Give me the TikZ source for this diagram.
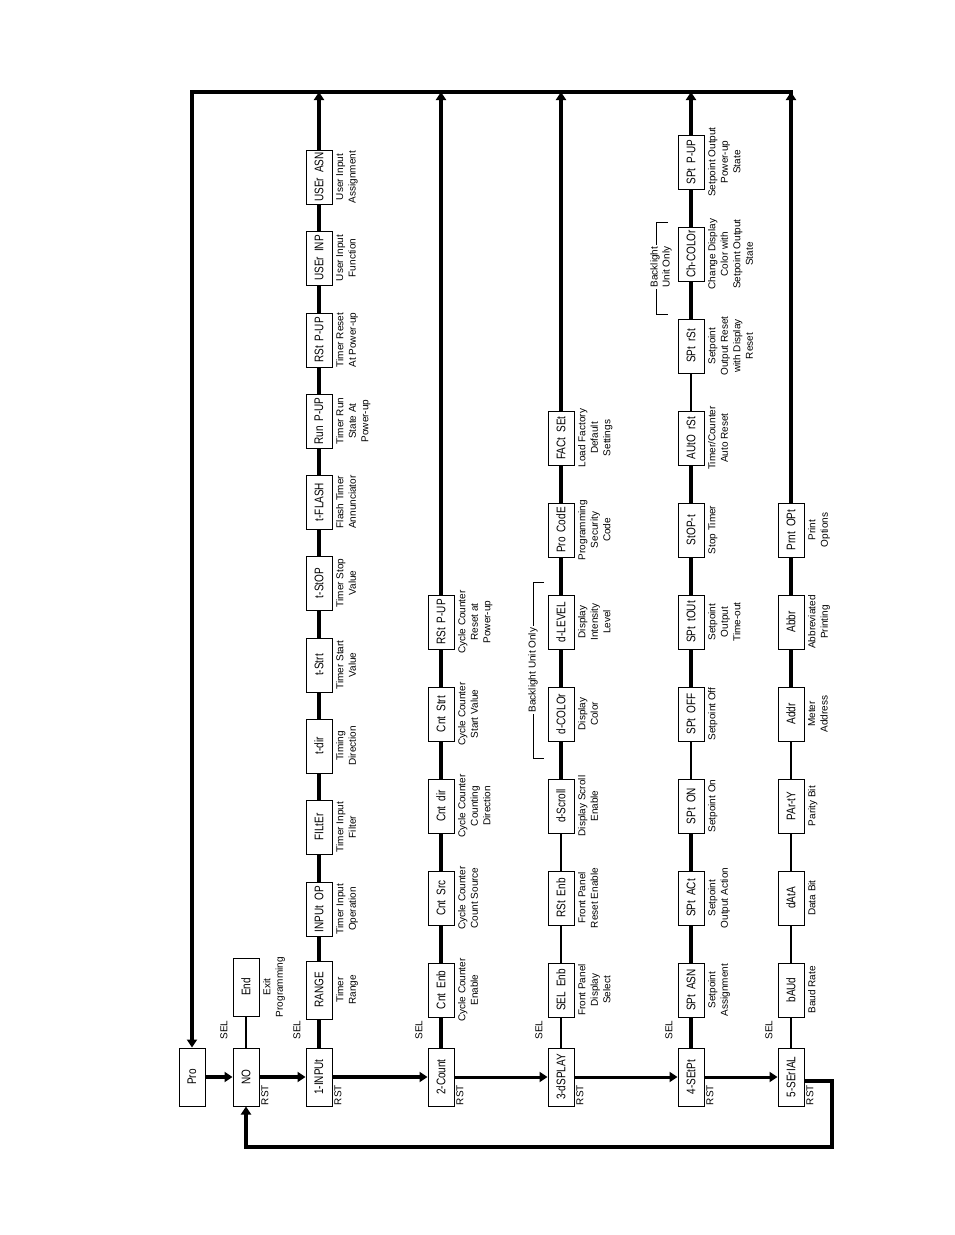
\documentclass[tikz,border=0pt]{standalone}
\usepackage{fontspec}
\setmainfont{Liberation Sans}
\newfontfamily\segfont[FakeStretch=0.8]{Liberation Sans}
\usetikzlibrary{arrows.meta}
\newcommand\gp{\hspace{5pt}}
\begin{document}
\begin{tikzpicture}[x=1pt,y=-1pt,
  box/.style={draw,line width=1pt,rotate=90,minimum width=54pt,minimum height=26pt,inner sep=1pt,fill=white,font=\segfont\fontsize{12.5}{14}\selectfont},
  hbox/.style={box,minimum width=58pt},
  lbl/.style={rotate=90,anchor=north,align=center,inner sep=0pt,font=\fontsize{10}{12.5}\selectfont},
  tag/.style={rotate=90,inner sep=0pt,font=\fontsize{10}{12}\selectfont},
  thk/.style={line width=3.5pt},
  med/.style={line width=3pt},
  thn/.style={line width=1.3pt},
  brk/.style={line width=0.8pt},
  arr/.style={-{Triangle[length=8pt,width=10pt]}}
]
\path[use as bounding box] (0,0) rectangle (954,1235);

% ---- top row
\node[hbox] (Pro) at (192,1077) {Pro};
\node[hbox] (NO) at (246,1077) {NO};
\node[hbox] (End) at (246,987) {End};
\node[lbl] (lEnd) at (263,987) {Exit\\Programming};

% ---- column 1
\node[hbox] (a0) at (319,1077) {1-INPUt};
\node[hbox] (a1) at (319,990) {RANGE};
\node[box] (a2) at (319,909) {INPUt\gp OP};
\node[box] (a3) at (319,827) {FILtEr};
\node[box] (a4) at (319,746) {t-dir};
\node[box] (a5) at (319,665) {t-Strt};
\node[box] (a6) at (319,583) {t-StOP};
\node[box] (a7) at (319,502) {t-FLASH};
\node[box] (a8) at (319,421) {Run\gp P-UP};
\node[box] (a9) at (319,340) {RSt\gp P-UP};
\node[box] (a10) at (319,258) {USEr\gp INP};
\node[box] (a11) at (319,177) {USEr\gp ASN};
\node[lbl] (la1) at (336,990) {Timer\\Range};
\node[lbl] (la2) at (336,909) {Timer Input\\Operation};
\node[lbl] (la3) at (336,827) {Timer Input\\Filter};
\node[lbl] (la4) at (336,746) {Timing\\Direction};
\node[lbl] (la5) at (336,665) {Timer Start\\Value};
\node[lbl] (la6) at (336,583) {Timer Stop\\Value};
\node[lbl] (la7) at (336,502) {Flash Timer\\Annunciator};
\node[lbl] (la8) at (336,421) {Timer Run\\State At\\Power-up};
\node[lbl] (la9) at (336,340) {Timer Reset\\At Power-up};
\node[lbl] (la10) at (336,258) {User Input\\Function};
\node[lbl] (la11) at (336,177) {User Input\\Assignment};

% ---- column 2
\node[hbox] (b0) at (441,1077) {2-Count};
\node[box] (b1) at (441,990) {Cnt\gp Enb};
\node[box] (b2) at (441,898) {Cnt\gp Src};
\node[box] (b3) at (441,806) {Cnt\gp dir};
\node[box] (b4) at (441,714) {Cnt\gp Strt};
\node[box] (b5) at (441,622) {RSt\gp P-UP};
\node[lbl] (lb1) at (458,990) {Cycle Counter\\Enable};
\node[lbl] (lb2) at (458,898) {Cycle Counter\\Count Source};
\node[lbl] (lb3) at (458,806) {Cycle Counter\\Counting\\Direction};
\node[lbl] (lb4) at (458,714) {Cycle Counter\\Start Value};
\node[lbl] (lb5) at (458,622) {Cycle Counter\\Reset at\\Power-up};

% ---- column 3
\node[hbox] (c0) at (561,1077) {3-dSPLAY};
\node[box] (c1) at (561,990) {SEL\gp Enb};
\node[box] (c2) at (561,898) {RSt\gp Enb};
\node[box] (c3) at (561,806) {d-Scroll};
\node[box] (c4) at (561,714) {d-COLOr};
\node[box] (c5) at (561,622) {d-LEVEL};
\node[box] (c6) at (561,530) {Pro\gp CodE};
\node[box] (c7) at (561,438) {FACt\gp SEt};
\node[lbl] (lc1) at (578,990) {Front Panel\\Display\\Select};
\node[lbl] (lc2) at (578,898) {Front Panel\\Reset Enable};
\node[lbl] (lc3) at (578,806) {Display Scroll\\Enable};
\node[lbl] (lc4) at (578,714) {Display\\Color};
\node[lbl] (lc5) at (578,622) {Display\\Intensity\\Level};
\node[lbl] (lc6) at (578,530) {Programming\\Security\\Code};
\node[lbl] (lc7) at (578,438) {Load Factory\\Default\\Settings};

% ---- column 4
\node[hbox] (d0) at (691,1077) {4-SEtPt};
\node[box] (d1) at (691,990) {SPt\gp ASN};
\node[box] (d2) at (691,898) {SPt\gp ACt};
\node[box] (d3) at (691,806) {SPt\gp ON};
\node[box] (d4) at (691,714) {SPt\gp OFF};
\node[box] (d5) at (691,622) {SPt\gp tOUt};
\node[box] (d6) at (691,530) {StOP-t};
\node[box] (d7) at (691,438) {AUtO\gp rSt};
\node[box] (d8) at (691,346) {SPt\gp rSt};
\node[box] (d9) at (691,254) {Ch-COLOr};
\node[box] (d10) at (691,162) {SPt\gp P-UP};
\node[lbl] (ld1) at (708,990) {Setpoint\\Assignment};
\node[lbl] (ld2) at (708,898) {Setpoint\\Output Action};
\node[lbl] (ld3) at (708,806) {Setpoint On};
\node[lbl] (ld4) at (708,714) {Setpoint Off};
\node[lbl] (ld5) at (708,622) {Setpoint\\Output\\Time-out};
\node[lbl] (ld6) at (708,530) {Stop Timer};
\node[lbl] (ld7) at (708,438) {Timer/Counter\\Auto Reset};
\node[lbl] (ld8) at (708,346) {Setpoint\\Output Reset\\with Display\\Reset};
\node[lbl] (ld9) at (708,254) {Change Display\\Color with\\Setpoint Output\\State};
\node[lbl] (ld10) at (708,162) {Setpoint Output\\Power-up\\State};

% ---- column 5
\node[hbox] (e0) at (791,1077) {5-SErIAL};
\node[box] (e1) at (791,990) {bAUd};
\node[box] (e2) at (791,898) {dAtA};
\node[box] (e3) at (791,806) {PAr-tY};
\node[box] (e4) at (791,714) {Addr};
\node[box] (e5) at (791,622) {Abbr};
\node[box] (e6) at (791,530) {Prnt\gp OPt};
\node[lbl] (le1) at (808,990) {Baud Rate};
\node[lbl] (le2) at (808,898) {Data Bit};
\node[lbl] (le3) at (808,806) {Parity Bit};
\node[lbl] (le4) at (808,714) {Meter\\Address};
\node[lbl] (le5) at (808,622) {Abbreviated\\Printing};
\node[lbl] (le6) at (808,530) {Print\\Options};

% ---- SEL / RST tags
\node[tag] (s0) at (224,1030) {SEL};
\node[tag] (s1) at (297,1030) {SEL};
\node[tag] (s2) at (419,1030) {SEL};
\node[tag] (s3) at (539,1030) {SEL};
\node[tag] (s4) at (669,1030) {SEL};
\node[tag] (s5) at (769,1030) {SEL};
\node[tag] (r0) at (265,1095) {RST};
\node[tag] (r1) at (338,1095) {RST};
\node[tag] (r2) at (460,1095) {RST};
\node[tag] (r3) at (580,1095) {RST};
\node[tag] (r4) at (710,1095) {RST};
\node[tag] (r5) at (810,1095) {RST};

% ---- coordinates
\coordinate (T0) at (192,92);
\coordinate (T5) at (791,92);
\coordinate (T5b) at (791,112);
\coordinate (R1) at (832,1081);
\coordinate (R2) at (832,1147);
\coordinate (R3) at (246,1147);

% ---- in-column connectors
\draw[thn] (NO) -- (End);
\draw[thk] (a0)--(a1) (a1)--(a2) (a2)--(a3) (a3)--(a4) (a4)--(a5) (a5)--(a6) (a6)--(a7) (a7)--(a8) (a8)--(a9) (a9)--(a10) (a10)--(a11);
\draw[thk] (b0)--(b1) (b1)--(b2) (b2)--(b3) (b3)--(b4) (b4)--(b5);
\draw[thn] (c0)--(c1) (c1)--(c2) (c2)--(c3);
\draw[thk] (c3)--(c4) (c4)--(c5) (c5)--(c6) (c6)--(c7);
\draw[thk] (d0)--(d1) (d1)--(d2) (d2)--(d3) (d4)--(d5) (d5)--(d6) (d6)--(d7) (d8)--(d9) (d9)--(d10);
\draw[thn] (d3)--(d4) (d7)--(d8);
\draw[thn] (e0)--(e1) (e1)--(e2) (e2)--(e3) (e3)--(e4);
\draw[thk] (e4)--(e5) (e5)--(e6);

% ---- up lines to the top bus
\draw[thk,arr] (a11) -- (a11 |- T0);
\draw[thk,arr] (b5) -- (b5 |- T0);
\draw[thk,arr] (c7) -- (c7 |- T0);
\draw[thk,arr] (d10) -- (d10 |- T0);
\draw[thk,arr] (T5b) -- (T5);
\draw[thk,arr] (e6) -- (T5) -- (T0) -- (Pro);

% ---- main horizontal flow
\draw[thk,arr] (Pro) -- (NO);
\draw[thk,arr] (NO) -- (a0);
\draw[thk,arr] (a0) -- (b0);
\draw[med,arr] (b0) -- (c0);
\draw[med,arr] (c0) -- (d0);
\draw[med,arr] (d0) -- (e0);

% ---- return path
\draw[thk,arr] (e0.south |- R1) -- (R1) -- (R2) -- (R3) -- (NO);

% ---- backlight brackets
\draw[brk] (544,582) -- (533,582) -- (533,758) -- (544,758);
\node[tag,fill=white,inner sep=2pt] (bk1) at (533,670) {Backlight Unit Only};
\draw[brk] (668,222) -- (656,222) -- (656,314) -- (668,314);
\node[tag,align=center,fill=white,inner sep=1.5pt] (bk2) at (661,267) {Backlight\\Unit Only};
\end{tikzpicture}
\end{document}
